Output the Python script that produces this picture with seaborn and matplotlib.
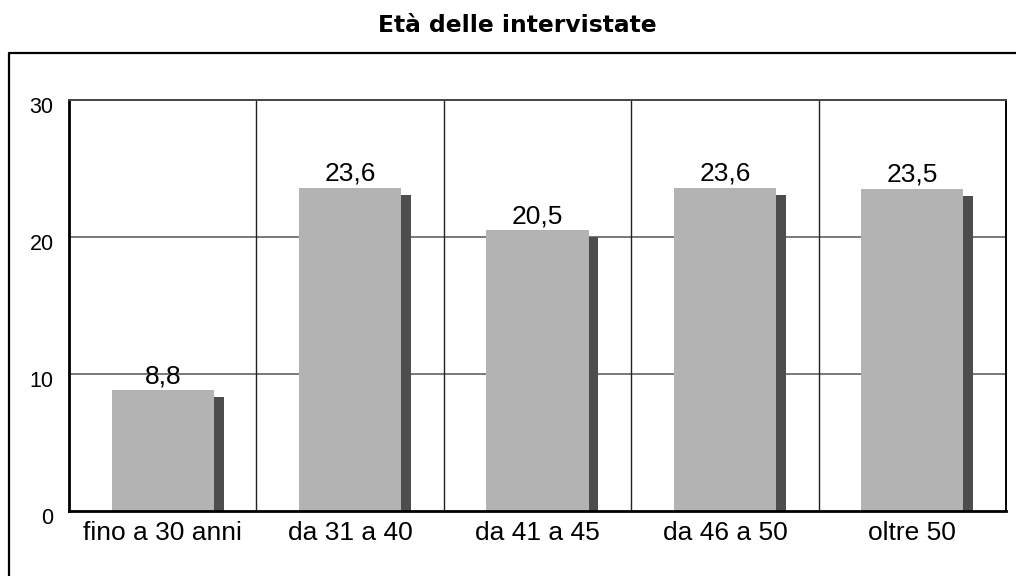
import matplotlib
matplotlib.use("Agg")
import matplotlib.pyplot as plt
import matplotlib.transforms as mtransforms
from matplotlib.lines import Line2D
import seaborn as sns
import pandas as pd

# Age groups of the interviewed women (percent)
categories = ["fino a 30 anni", "da 31 a 40", "da 41 a 45", "da 46 a 50", "oltre 50"]
values = [8.8, 23.6, 20.5, 23.6, 23.5]
y_ticks = [0, 10, 20, 30]
title = "Età delle intervistate"

df = pd.DataFrame({"categoria": categories, "percentuale": values})

sns.set_theme(style="white")
plt.rcParams["font.family"] = ["Liberation Sans", "DejaVu Sans"]
plt.rcParams["text.color"] = "black"
plt.rcParams["xtick.color"] = "black"
plt.rcParams["ytick.color"] = "black"

fig = plt.figure(figsize=(10.16, 5.76), dpi=100)
ax = fig.add_axes([69 / 1016, 1 - 511 / 576, (1006 - 69) / 1016, (511 - 100) / 576])

bar_width = 0.545
shadow_dx = 0.053   # horizontal shift of the drop shadow (category units)
shadow_dy = 0.5     # vertical drop of the shadow (data units)

# drop shadow bars, drawn first so the main bars sit on top
shadow_df = df.assign(ombra=df["percentuale"] - shadow_dy)
sns.barplot(data=shadow_df, x="categoria", y="ombra", order=categories,
            color="#4d4d4d", saturation=1, width=bar_width, ax=ax, zorder=2)
for p in ax.patches:
    p.set_x(p.get_x() + shadow_dx)
    p.set_edgecolor("none")
n_shadow = len(ax.patches)

sns.barplot(data=df, x="categoria", y="percentuale", order=categories,
            color="#b3b3b3", saturation=1, width=bar_width, ax=ax, zorder=3)
for p in ax.patches[n_shadow:]:
    p.set_edgecolor("none")

# value labels above the main bars
for i, v in enumerate(values):
    ax.annotate(f"{v:.1f}".replace(".", ","), (i, v), xytext=(0, 1.5),
                textcoords="offset points", ha="center", va="bottom",
                fontsize=19, color="black", zorder=5)

ax.set_xlim(-0.5, len(categories) - 0.5)
ax.set_ylim(0, 30)
ax.set_yticks(y_ticks)
ax.set_yticklabels([str(t) for t in y_ticks])
ax.set_xlabel("")
ax.set_ylabel("")

# grid: horizontal value lines and vertical category separators
for t in y_ticks[1:-1]:
    ax.axhline(t, color="#555555", lw=1.1, zorder=1)
for k in range(len(categories) - 1):
    ax.axvline(k + 0.5, color="#222222", lw=1.0, zorder=1)

ax.tick_params(axis="both", length=0, labelcolor="black")
ax.tick_params(axis="y", labelsize=15.5, pad=11)
ax.tick_params(axis="x", labelsize=19, pad=7)
offset = mtransforms.ScaledTranslation(0, -5 / 100, fig.dpi_scale_trans)
for lab in ax.get_yticklabels():
    lab.set_transform(lab.get_transform() + offset)

for side in ["left", "bottom"]:
    ax.spines[side].set_color("black")
    ax.spines[side].set_linewidth(2.0)
ax.spines["right"].set_color("black")
ax.spines["right"].set_linewidth(1.4)
ax.spines["top"].set_color("#444444")
ax.spines["top"].set_linewidth(1.4)
for s in ax.spines.values():
    s.set_zorder(6)

# outer frame (top and left edges)
fx, fy = 9 / 1016, 1 - 53 / 576
fig.add_artist(Line2D([fx, fx, 1.01], [-0.01, fy, fy], transform=fig.transFigure,
                      color="black", lw=1.6))

fig.text(517 / 1016, 1 - 25 / 576, title, ha="center", va="center", fontsize=16.8,
         fontweight="bold", color="black", family=["DejaVu Sans"])

fig.savefig("out.png", dpi=100)
